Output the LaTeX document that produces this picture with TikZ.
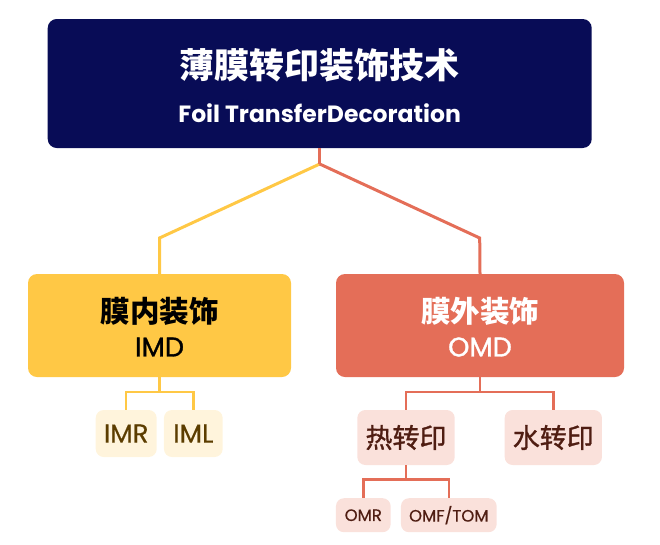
\documentclass[tikz,border=0pt]{standalone}
\usepackage{fontspec}
\setmainfont{Poppins}
\newfontfamily\popmed{Poppins}[FakeBold=1.2]
\newfontfamily\popsemi{Poppins}[FakeBold=0.5]
\newfontfamily\cjk{Noto Sans CJK SC}
\newfontfamily\cjkmed{Noto Sans CJK SC}[FakeBold=1.2]
\definecolor{navy}{HTML}{080C56}
\definecolor{imdyellow}{HTML}{FFC845}
\definecolor{omdorange}{HTML}{E46E58}
\definecolor{lightyellow}{HTML}{FFF4DC}
\definecolor{lightpink}{HTML}{FAE1DB}
\definecolor{browntext}{HTML}{5C3D00}
\definecolor{redtext}{HTML}{4F1D12}
\begin{document}
\begin{tikzpicture}[x=1pt,y=-1pt,
  box/.style={rounded corners=9pt, inner sep=0pt, anchor=center},
  lbl/.style={inner sep=0pt, anchor=center},
  yline/.style={draw=imdyellow, line width=3pt},
  oline/.style={draw=omdorange, line width=3pt},
  ysub/.style={draw=imdyellow, line width=2.5pt},
  osub/.style={draw=omdorange, line width=2.5pt},
  ychild/.style={box, fill=lightyellow, rounded corners=8pt, text=browntext, font=\popsemi\fontsize{26}{28}\selectfont},
  ochild/.style={box, fill=lightpink, rounded corners=8pt, text=redtext},
]
\useasboundingbox (0,0) rectangle (660,544);
% boxes
\node[box, fill=navy, minimum width=544pt, minimum height=129pt] (top) at (319.7,83.5) {};
\node[lbl, text=white, font=\cjk\bfseries\fontsize{35}{40}\selectfont] (toptitle) at (319.7,65.5) {薄膜转印装饰技术};
\node[lbl, text=white, font=\bfseries\fontsize{23.5}{26}\selectfont] (topsub) at (319.7,113) {Foil TransferDecoration};

\node[box, fill=imdyellow, minimum width=263pt, minimum height=103pt] (imd) at (159.5,325.5) {};
\node[lbl, text=black, font=\cjk\bfseries\fontsize{29.5}{34}\selectfont] (imdzh) at (159.5,311.7) {膜内装饰};
\node[lbl, text=black, font=\popmed\fontsize{27}{30}\selectfont] (imden) at (159.5,347) {IMD};

\node[box, fill=omdorange, minimum width=288pt, minimum height=103pt] (omd) at (480,325.5) {};
\node[lbl, text=white, font=\cjk\bfseries\fontsize{29.5}{34}\selectfont] (omdzh) at (480,311.7) {膜外装饰};
\node[lbl, text=white, font=\popmed\fontsize{27}{30}\selectfont] (omden) at (480,347) {OMD};

\node[ychild, minimum width=61pt, minimum height=47pt] (imr) at (126.2,433.5) {IMR};
\node[ychild, minimum width=58.7pt, minimum height=47pt] (iml) at (193.3,433.5) {IML};

\node[ochild, minimum width=97.4pt, minimum height=55pt, font=\cjkmed\fontsize{27}{30}\selectfont] (hot) at (406,437.5) {热转印};
\node[ochild, minimum width=97.3pt, minimum height=55pt, font=\cjkmed\fontsize{27}{30}\selectfont] (water) at (553.3,437.5) {水转印};

\node[ochild, minimum width=54.7pt, minimum height=34pt, font=\popsemi\fontsize{16.5}{19}\selectfont] (omr) at (363.3,515.2) {OMR};
\node[ochild, minimum width=95.7pt, minimum height=34pt, font=\popsemi\fontsize{16.5}{19}\selectfont] (omf) at (448.8,515.2) {OMF/TOM};

% connectors
\coordinate (split) at (319.7,164);
\draw[yline, line join=miter] (split) -- (159.5,238) -- (imd.north);
\draw[oline, line join=miter] (split) -- (479.7,238) -- (omd.north);
\draw[oline] (top.south) -- (split);

\draw[ysub] (imd.south) -- ++(0,15) -| (imr.north);
\draw[ysub] (imd.south) -- ++(0,15) -| (iml.north);

\draw[osub] (omd.south) -- ++(0,15) -| (hot.north);
\draw[osub] (omd.south) -- ++(0,15) -| (water.north);

\draw[osub] (hot.south) -- ++(0,14.5) -| (omr.north);
\draw[osub] (hot.south) -- ++(0,14.5) -| (omf.north);
\end{tikzpicture}
\end{document}
